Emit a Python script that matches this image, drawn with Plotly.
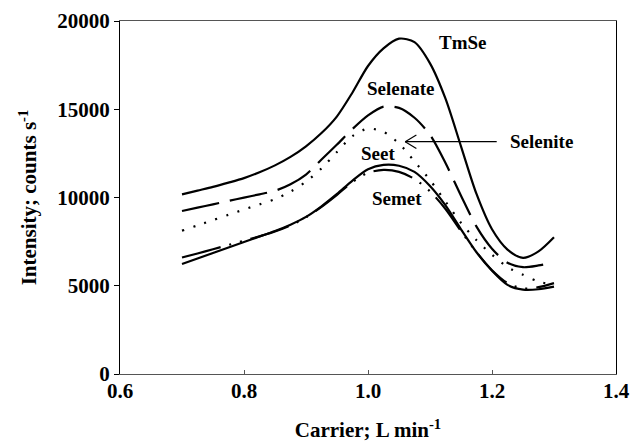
import plotly.graph_objects as go

carrier = [0.70, 0.725, 0.75, 0.775, 0.80, 0.825, 0.85, 0.875, 0.90, 0.925, 0.95, 0.975,
           1.00, 1.025, 1.05, 1.075, 1.10, 1.125, 1.15, 1.175, 1.20, 1.225, 1.25, 1.275, 1.30]

tmse     = [10180, 10390, 10600, 10840, 11100, 11430, 11820, 12300, 12900, 13650, 14600, 15950,
            17450, 18450, 19000, 18800, 17600, 15600, 12900, 10200, 8200, 7050, 6580, 6950, 7750]
selenate = [9235, 9425, 9615, 9805, 9995, 10180, 10380, 10750, 11300, 12150, 13000, 13880,
            14650, 15150, 15080, 14520, 13550, 11950, 10100, 8350, 7100, 6300, 6050, 6150, 6330]
selenite = [8121, 8420, 8720, 9020, 9320, 9610, 9910, 10330, 10900, 11650, 12580, 13480,
            13900, 13720, 13060, 12040, 10990, 9770, 8560, 7580, 6760, 6060, 5620, 5240, 5040]
seet     = [6600, 6830, 7070, 7310, 7550, 7800, 8070, 8420, 8880, 9470, 10150, 10880,
            11400, 11560, 11450, 11050, 10350, 9350, 8100, 6900, 5880, 5150, 4850, 4920, 5150]
semet    = [6232, 6540, 6855, 7165, 7475, 7790, 8100, 8460, 8900, 9500, 10200, 10960,
            11600, 11850, 11800, 11450, 10650, 9550, 8200, 6900, 5850, 5050, 4780, 4800, 4950]

x_ticks = [0.6, 0.8, 1.0, 1.2, 1.4]
y_ticks = [0, 5000, 10000, 15000, 20000]

FONT = "Liberation Serif"

fig = go.Figure()

def add(y, dash, width=2.2, name=""):
    fig.add_trace(go.Scatter(x=carrier, y=y, mode="lines", name=name,
                             line=dict(color="black", width=width, dash=dash,
                                       shape="spline", smoothing=0.8),
                             showlegend=False, hoverinfo="skip"))

add(seet, "40px,9px,2px,9px,2px,9px", name="Seet")
add(semet, "solid", name="Semet")
add(selenite, "2px,9.7px", width=2.2, name="Selenite")
add(selenate, "38px,11px", name="Selenate")
add(tmse, "solid", name="TmSe")

lab_font = dict(family=FONT, size=19, color="black", weight="bold")
labels = [
    ("TmSe", 1.1108, 18754, "left"),
    ("Selenate", 1.054, 16204, "center"),
    ("Seet", 1.0166, 12502, "center"),
    ("Semet", 1.0473, 9955, "center"),
    ("Selenite", 1.2258, 13161, "left"),
]
for t, xx, yy, anc in labels:
    fig.add_annotation(x=xx, y=yy, text=t, showarrow=False, xanchor=anc,
                       yanchor="middle", font=lab_font)

# arrow for Selenite
head_x, tail_x, arr_y = 1.06, 1.2076, 13161
fig.add_shape(type="line", x0=head_x, x1=tail_x, y0=arr_y, y1=arr_y,
              line=dict(color="black", width=1.2))
fig.add_shape(type="line", x0=head_x, x1=head_x + 0.018, y0=arr_y, y1=arr_y + 380,
              line=dict(color="black", width=1.2))
fig.add_shape(type="line", x0=head_x, x1=head_x + 0.018, y0=arr_y, y1=arr_y - 380,
              line=dict(color="black", width=1.2))

tick_font = dict(family=FONT, size=21, color="black", weight="bold")
title_font = dict(family=FONT, size=21, color="black", weight="bold")

fig.update_xaxes(range=[0.6, 1.4], tickvals=x_ticks,
                 ticktext=[f"{v:.1f}" for v in x_ticks],
                 showgrid=False, zeroline=False, showline=True, linecolor="#555",
                 linewidth=1.2, mirror=True, ticks="inside", ticklen=4,
                 tickcolor="#555", tickfont=tick_font, automargin=False,
                 ticklabelstandoff=-2,
                 title=dict(text="Carrier; L min<sup>-1</sup>", font=title_font, standoff=20))
fig.update_yaxes(range=[0, 20000], tickvals=y_ticks,
                 ticktext=[str(v) for v in y_ticks],
                 showgrid=False, zeroline=False, showline=True, linecolor="black",
                 linewidth=1.2, mirror=True, ticks="outside", ticklen=5,
                 tickcolor="black", tickfont=tick_font, automargin=False,
                 title=dict(text="Intensity; counts s<sup>-1</sup>", font=title_font, standoff=14))

fig.update_layout(width=631, height=443, plot_bgcolor="white", paper_bgcolor="white",
                  margin=dict(l=120, r=15, t=21, b=69))

fig.write_html("out.html")
